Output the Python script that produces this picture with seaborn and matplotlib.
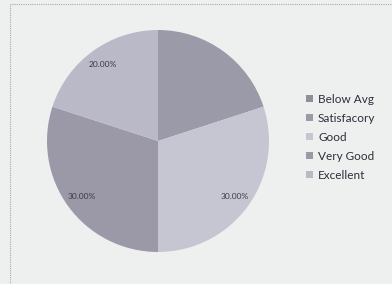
import seaborn as sns
from matplotlib import pyplot as plt
from matplotlib.patches import Rectangle

categories = ['Below Avg', 'Satisfacory', 'Good', 'Very Good', 'Excellent']
shares = [0, 20, 30, 30, 20]
colors = ['#8e8e9c', '#9a9aa8', '#c6c6d2', '#9b99a8', '#b9b9c7']
hidden_labels = ['Below Avg', 'Satisfacory']

sns.set_theme(style='white')
plt.rcParams['font.family'] = ['Lato', 'DejaVu Sans']

fig = plt.figure(figsize=(3.92, 2.84), dpi=100)
fig.patch.set_facecolor('#eef0f0')
fig.add_artist(Rectangle((10 / 392, -0.01), 1.0, 0.996, transform=fig.transFigure,
                         fill=False, linestyle=(0, (1, 1)), edgecolor='#a8a8a8', linewidth=0.8))

ax = fig.add_axes([47 / 392, 32 / 284, 222 / 392, 222 / 284])
ax.set_facecolor('none')

wedges, texts, autotexts = ax.pie(
    shares, colors=colors, startangle=90, counterclock=False,
    autopct='%.2f%%', pctdistance=0.85,
    wedgeprops={'linewidth': 0},
    textprops={'fontsize': 6, 'color': '#3a3a44'},
)
for cat, t in zip(categories, autotexts):
    if cat in hidden_labels:
        t.set_text('')
ax.set_xlim(-1, 1)
ax.set_ylim(-1, 1)
ax.set_aspect('equal')

leg = ax.legend(wedges, categories, loc='upper left', bbox_to_anchor=(1.12, 0.76),
                frameon=False, fontsize=8.5, handlelength=0.55, handleheight=0.55,
                handletextpad=0.45, labelspacing=0.68, labelcolor='#2e2e3a')

fig.savefig('out.png', dpi=100, facecolor=fig.get_facecolor())
